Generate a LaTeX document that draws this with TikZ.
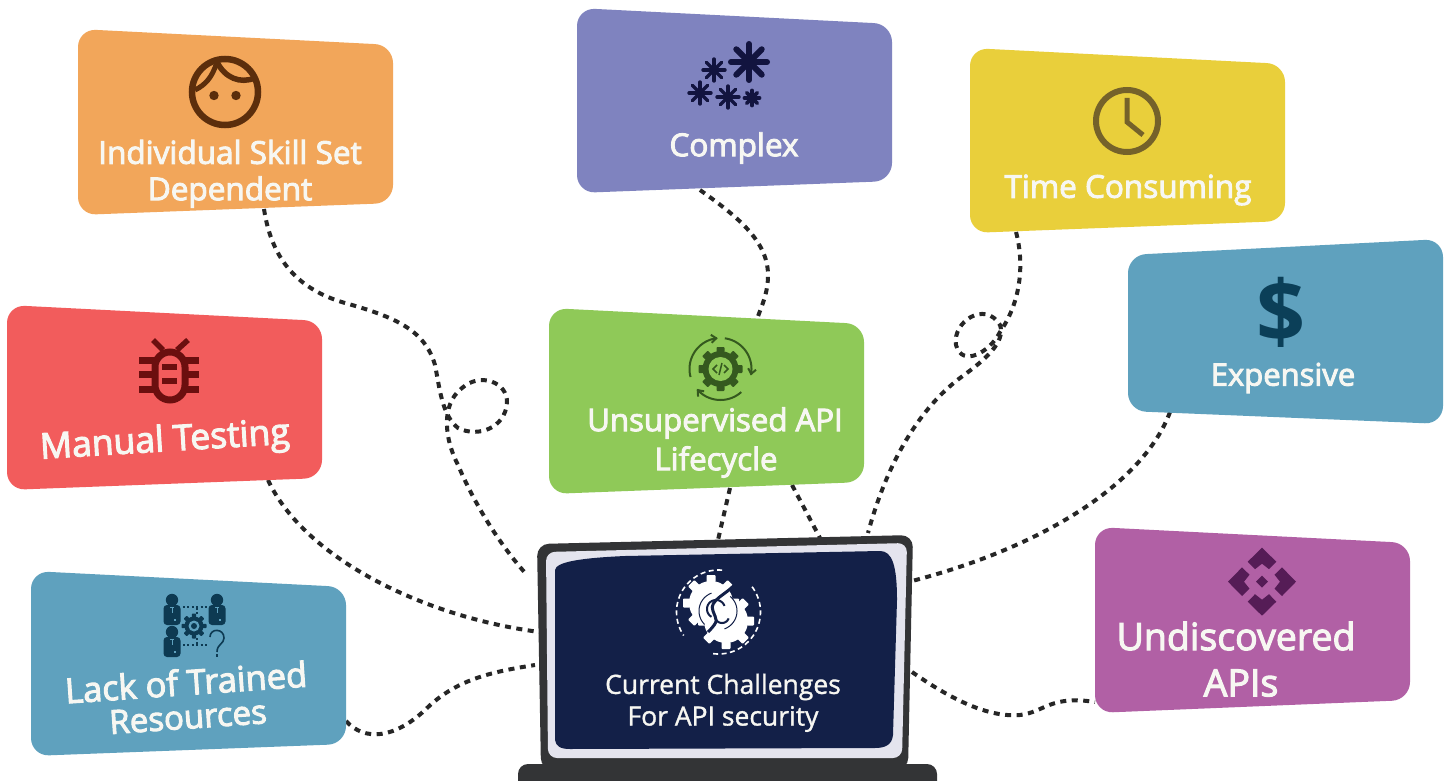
\documentclass[tikz,border=0pt]{standalone}
\usepackage{fontspec}
\setmainfont{Open Sans}
\newfontfamily\semi[FakeBold=3]{Open Sans}
\newfontfamily\light[FakeBold=1.2]{Open Sans}
\usetikzlibrary{arrows.meta}
\definecolor{cOrange}{HTML}{F2A65A}
\definecolor{cPurple}{HTML}{7F83BF}
\definecolor{cYellow}{HTML}{E9CF3B}
\definecolor{cTeal}{HTML}{5FA1BE}
\definecolor{cRed}{HTML}{F25C5C}
\definecolor{cGreen}{HTML}{8FC958}
\definecolor{cMagenta}{HTML}{B160A5}
\definecolor{cNavy}{HTML}{132048}
\definecolor{cFrame}{HTML}{333436}
\definecolor{cLink}{HTML}{262626}
\definecolor{cLight}{HTML}{E4E4EE}
\definecolor{cText}{HTML}{F7F7F2}
\definecolor{iFace}{HTML}{5C2E0C}
\definecolor{iSnow}{HTML}{12143F}
\definecolor{iClock}{HTML}{75622A}
\definecolor{iBug}{HTML}{6B0F0F}
\definecolor{iCode}{HTML}{35591F}
\definecolor{iTeam}{HTML}{0D3A52}
\definecolor{iDiamond}{HTML}{551C56}
\definecolor{iDollar}{HTML}{0B3F58}
\tikzset{
  x=1pt,y=-1pt,
  card/.style={rounded corners=18pt},
  link/.style={draw=cLink,line width=4pt,dash pattern=on 6pt off 5.5pt},
  lbl/.style={text=cText,inner sep=0pt,align=center},
}
% x, y, radius, colour, spokes rotation, line width
\newcommand\mystar[5]{%
  \foreach \a in {0,45,90,135}
    \draw[#4,line width=#5,line cap=round,shift={(#1,#2)},rotate=\a] (-#3,0) -- (#3,0);}
% x, y, radius, tooth half width, tooth length, colour, count step
\newcommand\mygear[7]{%
  \fill[#6] (#1,#2) circle[radius=#3];
  \foreach \a in {0,#7,...,359}
    \fill[#6,shift={(#1,#2)},rotate=\a,rounded corners=0.8pt] (-#4,-#3+1) rectangle (#4,-#3-#5);}
% centre x, y, radius, from, to, style
\newcommand\myarc[6]{%
  \draw[#6] plot[domain=#4:#5,samples=40,smooth] ({#1+#3*cos(\x)},{#2-#3*sin(\x)});}
% person icon
\newcommand\myperson[2]{%
  \fill[iTeam] (#1,#2-9) circle[radius=6.2];
  \fill[iTeam,rounded corners=3.5pt] (#1-8.5,#2-4) rectangle (#1+8.5,#2+16);
  \draw[cTeal,line width=1pt] (#1-2,#2-2) -- (#1+2,#2-2) (#1,#2-2) -- (#1,#2+4);
  \fill[cTeal] (#1+2,#2+10) rectangle (#1+4,#2+12);}
\begin{document}
\begin{tikzpicture}
\useasboundingbox (0,0) rectangle (1453,781);
\fill[white] (0,0) rectangle (1453,781);

% connector ends
\coordinate (oS) at (264,209);
\coordinate (lA) at (527,575);
\coordinate (pS) at (700,190);
\coordinate (gN) at (757,319);
\coordinate (gA) at (730,488);
\coordinate (lB) at (718,540);
\coordinate (gB) at (792,485);
\coordinate (lC) at (820,538);
\coordinate (yS) at (1016,232);
\coordinate (lD) at (868,533);
\coordinate (eS) at (1170,412);
\coordinate (lE) at (912,581);
\coordinate (rS) at (268,480);
\coordinate (lF) at (548,633);
\coordinate (tS) at (346,721);
\coordinate (lG) at (535,665);
\coordinate (mS) at (1095,702);
\coordinate (lH) at (912,672);

% connectors
\draw[link] (oS) .. controls (272,262) and (300,290) .. (345,303)
  .. controls (395,317) and (425,330) .. (435,365)
  .. controls (440,390) and (442,415) .. (458,428)
  .. controls (478,438) and (505,428) .. (507,403)
  .. controls (508,382) and (480,372) .. (462,388)
  .. controls (440,405) and (445,440) .. (458,465)
  .. controls (475,505) and (500,545) .. (lA);
\draw[link] (pS) .. controls (735,215) and (768,240) .. (768,275) .. controls (768,293) and (762,305) .. (gN);
\draw[link] (gA) -- (lB);
\draw[link] (gB) -- (lC);
\draw[link] (yS) .. controls (1024,262) and (1022,300) .. (1000,332)
  .. controls (990,352) and (962,368) .. (956,345)
  .. controls (952,322) and (985,300) .. (1000,325)
  .. controls (1006,342) and (985,360) .. (960,378)
  .. controls (915,412) and (885,470) .. (lD);
\draw[link] (eS) .. controls (1145,480) and (1050,545) .. (lE);
\draw[link] (rS) .. controls (305,560) and (430,620) .. (lF);
\draw[link] (tS) .. controls (365,742) and (395,738) .. (425,710) .. controls (455,680) and (490,672) .. (lG);
\draw[link] (lH) .. controls (945,695) and (985,718) .. (1020,715) .. controls (1045,712) and (1050,695) .. (mS);

% cards
\fill[cOrange,card] (78,29) -- (393,45) -- (393,203) -- (78,215) -- cycle;
\fill[cPurple,card] (577,8) -- (892,24) -- (892,181) -- (577,193) -- cycle;
\fill[cYellow,card] (970,48) -- (1285,64) -- (1285,221) -- (970,233) -- cycle;
\fill[cTeal,card] (1128,255) -- (1443,239) -- (1443,424) -- (1128,411) -- cycle;
\fill[cRed,card] (7,305) -- (322,321) -- (322,478) -- (7,490) -- cycle;
\fill[cGreen,card] (549,308) -- (864,324) -- (864,482) -- (549,494) -- cycle;
\fill[cTeal,card] (31,571) -- (346,587) -- (346,744) -- (31,756) -- cycle;
\fill[cMagenta,card] (1095,527) -- (1410,543) -- (1410,700) -- (1095,713) -- cycle;

% laptop
\fill[cFrame,rounded corners=12pt] (537,544) -- (913,535) -- (908,770) -- (541,770) -- cycle;
\fill[cFrame,rounded corners=10pt] (518,764) rectangle (937,795);
\fill[cLight,rounded corners=9pt] (546,552) -- (907,543) -- (902,758) -- (548,758) -- cycle;
\fill[cNavy] (555,570) .. controls (556,562) and (580,558) .. (625,556)
  -- (880,551) .. controls (892,551) and (897,565) .. (897,600)
  -- (893,735) .. controls (892,745) and (885,748) .. (875,748)
  -- (570,749) .. controls (560,749) and (556,746) .. (555,740) -- cycle;

% laptop gear icon
\mygear{711}{603}{22}{4.5}{6}{white}{45}
\mygear{726}{621}{22}{4.5}{6}{white}{45}
\draw[cNavy,line width=3pt] (736,583) .. controls (728,594) and (708,600) .. (713,611) .. controls (716,620) and (720,620) .. (708,632);
\myarc{718}{611}{19}{110}{225}{cNavy,line width=1pt}
\myarc{718}{611}{19}{-70}{50}{cNavy,line width=1pt}
\myarc{716}{609}{9}{20}{240}{cNavy,line width=2pt}
\myarc{722}{616}{7}{200}{340}{cNavy,line width=2pt}
\myarc{718.5}{612}{42}{85}{214}{white,line width=1.6pt,dash pattern=on 5pt off 3.5pt}
\myarc{718.5}{612}{42}{37}{-100}{white,line width=1.6pt,dash pattern=on 5pt off 3.5pt}

% face icon
\draw[iFace,line width=6.5pt] (225,92) circle[radius=33];
\draw[iFace,line width=5.5pt] (217,62) .. controls (225,78) and (240,84) .. (255,78);
\draw[iFace,line width=5pt] (217,62) .. controls (212,78) and (205,85) .. (195,90);
\fill[iFace] (214,95.5) circle[radius=4.7] (236,95.5) circle[radius=4.7];

% snow icon
\mystar{749}{62}{18}{iSnow}{6pt}
\mystar{714}{70}{11}{iSnow}{3.4pt}
\mystar{700}{93}{11}{iSnow}{3.4pt}
\mystar{728}{97}{11}{iSnow}{3.4pt}
\mystar{752}{98}{7.5}{iSnow}{3.8pt}

% clock icon
\draw[iClock,line width=6pt] (1127,121) circle[radius=31];
\draw[iClock,line width=5pt] (1127,98) -- (1127,122) -- (1143,135);

% dollar icon
\node[inner sep=0pt,text=iDollar,font=\fontsize{86}{86}\selectfont\bfseries] (dollar) at (1281,312) {\$};

% bug icon
\draw[iBug,line width=7pt,rounded corners=15pt] (155,352) rectangle (185,400);
\draw[iBug,line width=7pt] (139,360) -- (155,360) (139,374) -- (155,374) (139,389) -- (155,389)
  (185,360) -- (199,360) (185,374) -- (199,374) (185,389) -- (199,389);
\draw[iBug,line width=5.5pt] (153,340) -- (163,350) (188,340) -- (177,350);
\draw[iBug,line width=5.5pt] (162,367) -- (177,367) (162,381) -- (177,381);

% code gear icon
\mygear{720.5}{369}{18}{4}{4}{iCode}{45}
\fill[cGreen] (720.5,369) circle[radius=12];
\draw[iCode,line width=1.5pt] (717,365) -- (713,369) -- (717,373) (724,365) -- (728,369) -- (724,373) (722,363) -- (719,375);
\myarc{720.5}{369}{31}{195}{95}{iCode,line width=2pt,-{Straight Barb[length=5pt,width=8pt]}}
\myarc{720.5}{369}{31}{82}{-12}{iCode,line width=2pt,-{Straight Barb[length=5pt,width=8pt]}}
\myarc{720.5}{369}{31}{-48}{-140}{iCode,line width=2pt,-{Straight Barb[length=5pt,width=8pt]}}

% team icon
\myperson{172}{609}
\myperson{217}{609}
\myperson{172}{641}
\mygear{194}{626}{9.5}{2.2}{3}{iTeam}{45}
\fill[cTeal] (194,626) circle[radius=5.5];
\fill[iTeam] (194,626) circle[radius=3];
\draw[iTeam,line width=1.8pt,dash pattern=on 2pt off 2.4pt] (183,607) -- (207,607) (183,645) -- (207,645)
  (197,608) -- (197,614) (197,638) -- (197,644);
\draw[iTeam,line width=1.6pt] (210,637) .. controls (210,628) and (224,628) .. (224,638) .. controls (224,644) and (217,644) .. (217,652);
\fill[iTeam] (216,654) rectangle (218,656.5);

% diamonds icon
\foreach \r in {0,90,180,270}
  \fill[iDiamond,shift={(1262,581.7)},rotate=\r] (0,-34) -- (14.3,-20) -- (7,-12.5) -- (0,-18) -- (-7,-12.5) -- (-14.3,-20) -- cycle;
\fill[iDiamond] (1262,575.7) -- (1268,581.7) -- (1262,587.7) -- (1256,581.7) -- cycle;

% labels
\node[lbl,font=\fontsize{31.5}{31.5}\semi] (t1a) at (230,152) {Individual Skill Set};
\node[lbl,font=\fontsize{31.5}{31.5}\semi] (t1b) at (230,192) {Dependent};
\node[lbl,font=\fontsize{31.5}{31.5}\semi] (t2) at (734,148) {Complex};
\node[lbl,font=\fontsize{31.5}{31.5}\semi] (t3) at (1128,190) {Time Consuming};
\node[lbl,font=\fontsize{31}{31}\semi] (t4) at (1283,378) {Expensive};
\node[lbl,font=\fontsize{35.5}{35.5}\semi,rotate=3.5] (t5) at (165,442) {Manual Testing};
\node[lbl,font=\fontsize{31.2}{31.2}\semi] (t6a) at (715,423) {Unsupervised API};
\node[lbl,font=\fontsize{31.2}{31.2}\semi] (t6b) at (716,462) {Lifecycle};
\node[lbl,font=\fontsize{34.5}{34.5}\semi,rotate=4] (t7a) at (186,682) {Lack of Trained};
\node[lbl,font=\fontsize{33}{33}\semi,rotate=4] (t7b) at (188,717) {Resources};
\node[lbl,font=\fontsize{37.5}{37.5}\semi] (t8a) at (1236,636) {Undiscovered};
\node[lbl,font=\fontsize{37.5}{37.5}\semi] (t8b) at (1241,683) {APIs};
\node[lbl,font=\fontsize{26.5}{26.5}\light] (t9a) at (723,687) {Current Challenges};
\node[lbl,font=\fontsize{26.5}{26.5}\light] (t9b) at (723,719) {For API security};
\end{tikzpicture}
\end{document}
